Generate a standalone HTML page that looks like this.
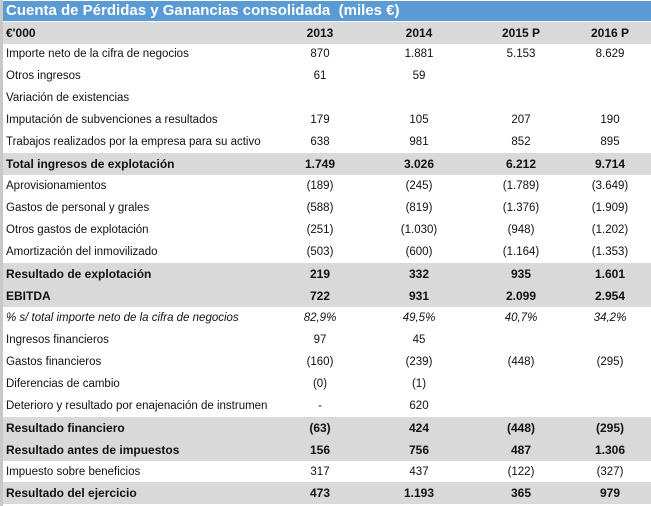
<!DOCTYPE html>
<html><head><meta charset="utf-8"><style>
body{margin:0;width:651px;height:506px;overflow:hidden;background:#fff;font-family:"Liberation Sans",Arial,sans-serif;position:relative}
#frame{position:absolute;left:0;top:0;width:651px;height:506px;background:#fff}
#lb{position:absolute;left:0;top:0;width:3px;height:506px;background:#c8c8c8}
#title{position:absolute;left:3px;top:1px;width:648px;height:20px;background:#5b9bd5;color:#fff;font-weight:bold;font-size:15px;line-height:20px;padding-left:3px;box-sizing:border-box}
.row{position:absolute;left:3px;width:648px;height:22px;font-size:11.5px;line-height:23px;color:#111}
.row.g{background:#d9d9d9;font-weight:bold;font-size:12px}
.row.i{font-style:italic}
.row span{position:absolute;top:0;white-space:nowrap}
.lab{left:3px}
.c{width:80px;text-align:center}
</style></head><body>
<div id="frame">
<div id="lb"></div>
<div id="title">Cuenta de Pérdidas y Ganancias consolidada &nbsp;(miles €)</div>
<div id="rows"></div>
</div>
<script>
const labels=["€'000","Importe neto de la cifra de negocios","Otros ingresos","Variación de existencias","Imputación de subvenciones a resultados","Trabajos realizados por la empresa para su activo","Total ingresos de explotación","Aprovisionamientos","Gastos de personal y grales","Otros gastos de explotación","Amortización del inmovilizado","Resultado de explotación","EBITDA","% s/ total importe neto de la cifra de negocios","Ingresos financieros","Gastos financieros","Diferencias de cambio","Deterioro y resultado por enajenación de instrumen","Resultado financiero","Resultado antes de impuestos","Impuesto sobre beneficios","Resultado del ejercicio"];
const v2013=["2013","870","61","","179","638","1.749","(189)","(588)","(251)","(503)","219","722","82,9%","97","(160)","(0)","-","(63)","156","317","473"];
const v2014=["2014","1.881","59","","105","981","3.026","(245)","(819)","(1.030)","(600)","332","931","49,5%","45","(239)","(1)","620","424","756","437","1.193"];
const v2015=["2015 P","5.153","","","207","852","6.212","(1.789)","(1.376)","(948)","(1.164)","935","2.099","40,7%","","(448)","","","(448)","487","(122)","365"];
const v2016=["2016 P","8.629","","","190","895","9.714","(3.649)","(1.909)","(1.202)","(1.353)","1.601","2.954","34,2%","","(295)","","","(295)","1.306","(327)","979"];
const gray=[0,6,11,12,18,19,21];
const cols=[v2013,v2014,v2015,v2016];
const colX=[277,376,478,567];
const host=document.getElementById('rows');
labels.forEach((l,r)=>{
  const row=document.createElement('div');
  
  
  row.className='row'+(gray.includes(r)?' g':'')+(r===13?' i':'');
  row.style.top=(21.5+r*21.95)+'px';
  const s=document.createElement('span');
  
  
  s.className='lab';s.textContent=l;row.appendChild(s);
  cols.forEach((c,j)=>{
    const t=document.createElement('span');
    
    
    t.className='c';t.style.left=colX[j]+'px';t.textContent=c[r];row.appendChild(t);
  });
  host.appendChild(row);
});
</script>
</body></html>
